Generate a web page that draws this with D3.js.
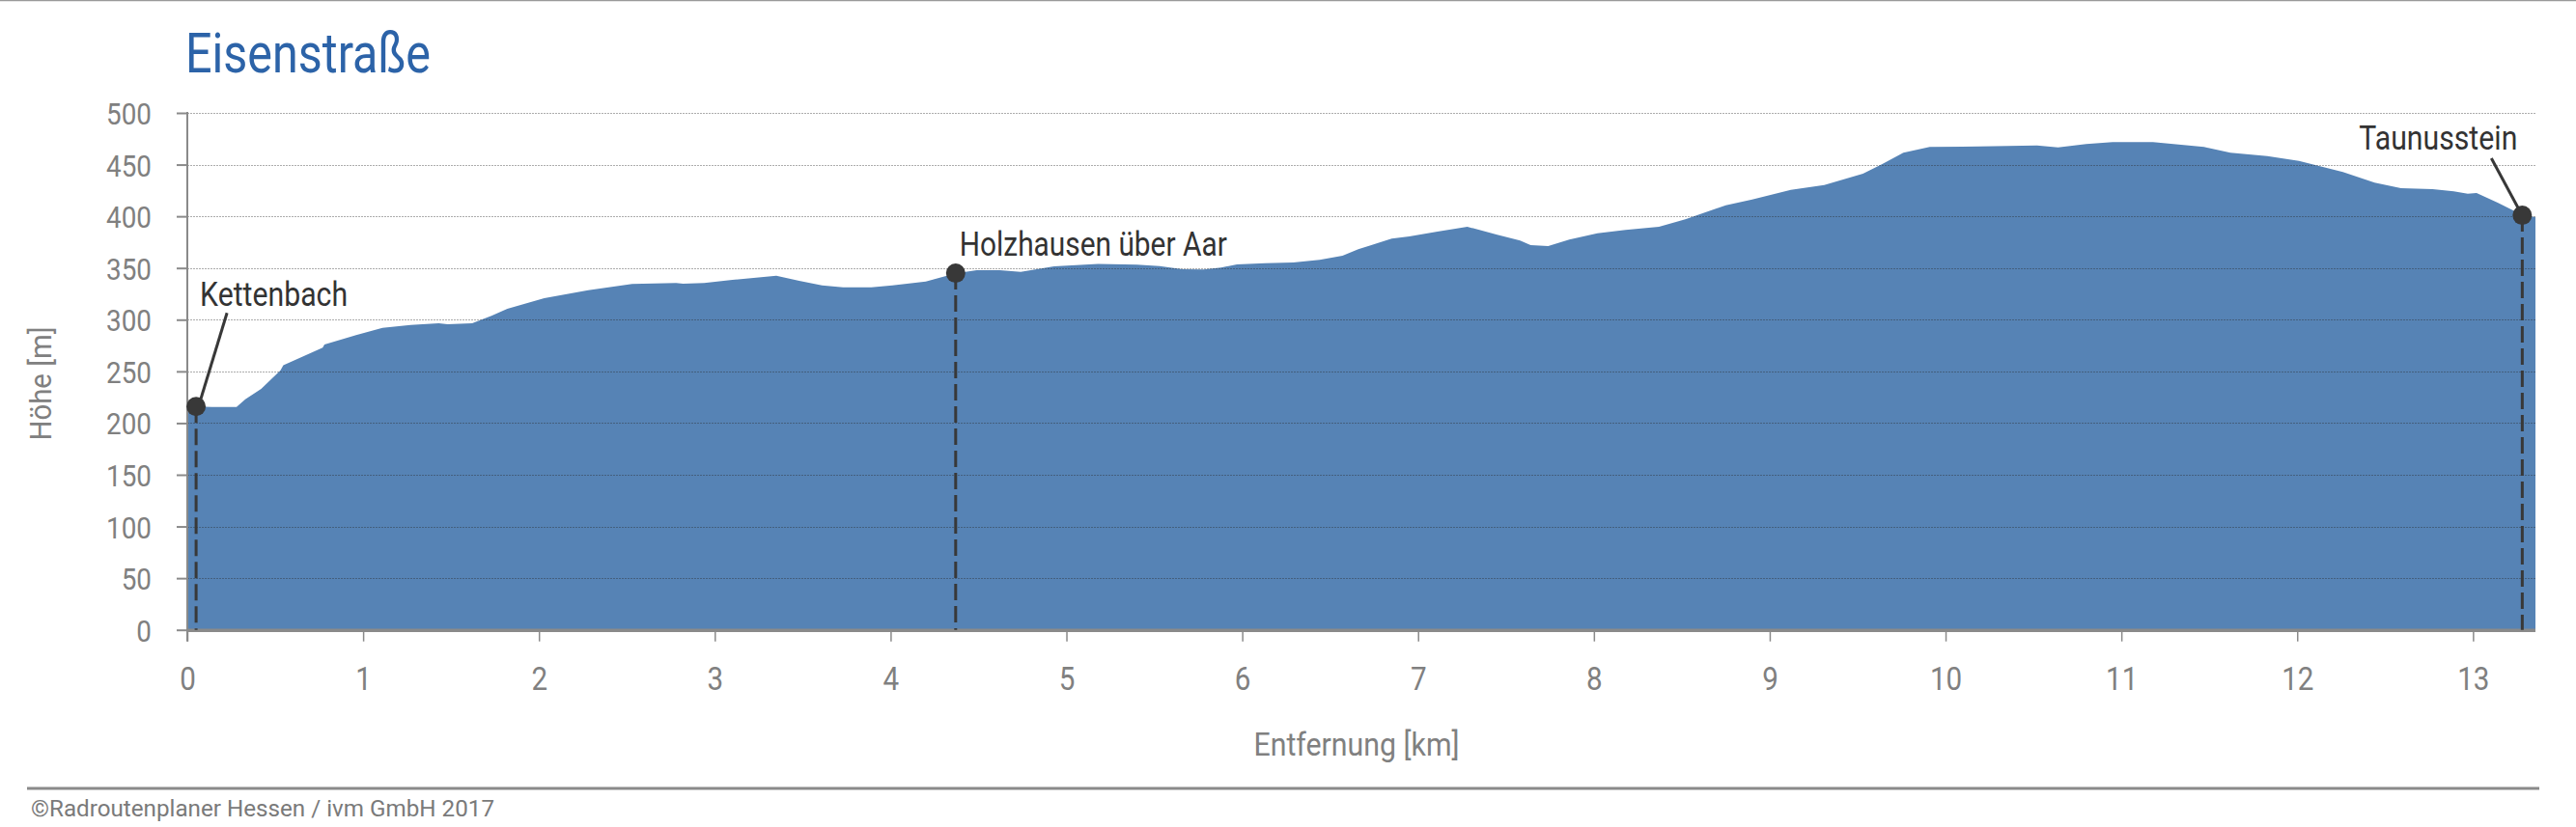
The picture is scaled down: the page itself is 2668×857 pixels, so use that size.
<!DOCTYPE html>
<html><head><meta charset="utf-8">
<script src="https://cdn.jsdelivr.net/npm/d3@7/dist/d3.min.js"></script>
<style>
html,body{margin:0;padding:0;background:#fff;}
svg{display:block;font-family:Roboto,"Noto Sans",sans-serif;}
</style></head>
<body>
<svg id="chart" width="2668" height="857"></svg>
<script>
// ---- data ----
const distanceKm = [0, 0.05, 0.14, 0.28, 0.33, 0.42, 0.53, 0.546, 0.77, 0.78, 0.96, 1.11, 1.27, 1.43, 1.48, 1.62, 1.73, 1.82, 2.03, 2.28, 2.53, 2.78, 2.82, 2.94, 3.10, 3.35, 3.48, 3.61, 3.73, 3.89, 4.01, 4.20, 4.37, 4.49, 4.62, 4.74, 4.93, 5.18, 5.40, 5.53, 5.66, 5.78, 5.88, 5.97, 6.13, 6.29, 6.44, 6.57, 6.66, 6.85, 6.95, 7.11, 7.28, 7.45, 7.58, 7.64, 7.74, 7.86, 8.02, 8.18, 8.37, 8.52, 8.75, 8.90, 9.12, 9.31, 9.53, 9.64, 9.76, 9.91, 10.19, 10.52, 10.64, 10.80, 10.95, 11.18, 11.47, 11.62, 11.83, 12.01, 12.26, 12.44, 12.59, 12.77, 12.89, 12.97, 13.02, 13.14, 13.28, 13.355];
const elevationM = [217, 216, 215.6, 215.6, 223, 233, 251, 256, 273, 276, 285, 292, 295, 296.5, 295.6, 296.5, 303.7, 310.5, 320.8, 328.5, 334.5, 335.4, 334.8, 335.4, 338.5, 342.5, 337.6, 333.2, 331.3, 331.3, 333.2, 337, 344.8, 347.9, 347.9, 346.3, 351.6, 354, 353.2, 351.9, 348.8, 348.5, 350.4, 353.5, 354.7, 355.3, 357.8, 361.9, 368.1, 378.4, 380.5, 385.2, 389.9, 382.1, 376.5, 372.1, 371.2, 377.4, 383.6, 386.8, 389.9, 397, 410.7, 416.3, 425.6, 430.3, 441.2, 450.5, 461.4, 467, 467.6, 468.5, 466.7, 469.8, 471.7, 471.7, 467, 461.4, 458.3, 453.6, 442.8, 432.5, 427.2, 426.3, 424.1, 421.9, 422.5, 413.2, 401.3, 399.2];
const placeNames = ["Kettenbach", "Holzhausen über Aar", "Taunusstein"];
const placeKm = [0.05, 4.37, 13.28];
const placeElev = [216, 345, 401];
const yTickValues = [0, 50, 100, 150, 200, 250, 300, 350, 400, 450, 500];
const xTickValues = [0, 1, 2, 3, 4, 5, 6, 7, 8, 9, 10, 11, 12, 13];
const titleText = "Eisenstraße";
const xAxisTitle = "Entfernung [km]";
const yAxisTitle = "Höhe [m]";
const creditText = "©Radroutenplaner Hessen / ivm GmbH 2017";

// ---- layout ----
const W = 2668, H = 857;
const plot = {left: 194, right: 2626, top: 117, bottom: 652.7};
const svg = d3.select("#chart");
const x = d3.scaleLinear().domain([0, d3.max(distanceKm)]).range([plot.left, plot.right]);
const y = d3.scaleLinear().domain([0, 500]).range([plot.bottom, plot.top]);
const axisGray = "#8a8a8a", textGray = "#808080", dark = "#383838";
const cond = 0.87;

// top border
svg.append("line").attr("x1", 0).attr("x2", W).attr("y1", 0.5).attr("y2", 0.5)
  .attr("stroke", "#9a9a9a").attr("stroke-width", 1.5);

// title
svg.append("text").attr("x", 192).attr("y", 75).text(titleText)
  .attr("font-size", 57).attr("fill", "#2c63a8")
  .attr("textLength", 254).attr("lengthAdjust", "spacingAndGlyphs");

// area
const area = d3.area().x((d, i) => x(distanceKm[i])).y0(y(0)).y1(d => y(d));
svg.append("path").datum(elevationM).attr("d", area).attr("fill", "#5683b5");

// gridlines
svg.append("g").selectAll("line").data(yTickValues.filter(v => v > 0)).join("line")
  .attr("x1", plot.left).attr("x2", plot.right)
  .attr("y1", d => Math.round(y(d)) + 0.5).attr("y2", d => Math.round(y(d)) + 0.5)
  .attr("stroke", "rgba(40,40,40,0.38)").attr("stroke-width", 1).attr("stroke-dasharray", "2,1");

// y axis
const gy = svg.append("g").attr("transform", `translate(${plot.left},0)`)
  .call(d3.axisLeft(y).tickValues(yTickValues).tickSize(11).tickSizeOuter(0));
gy.select(".domain").remove();
gy.selectAll(".tick line").attr("stroke", axisGray).attr("stroke-width", 2);
gy.selectAll(".tick text").attr("fill", textGray).attr("font-size", 32)
  .attr("font-family", "Roboto").attr("x", -37 / cond).attr("dy", "0.36em")
  .attr("transform", `scale(${cond},1)`);
svg.append("line").attr("x1", plot.left).attr("x2", plot.left)
  .attr("y1", plot.top - 1).attr("y2", plot.bottom + 12)
  .attr("stroke", axisGray).attr("stroke-width", 2);

// x axis
const gx = svg.append("g").attr("transform", `translate(0,${plot.bottom})`)
  .call(d3.axisBottom(x).tickValues(xTickValues).tickSize(12).tickSizeOuter(0).tickFormat(d3.format("d")));
gx.select(".domain").remove();
gx.selectAll(".tick line").attr("stroke", axisGray).attr("stroke-width", 1.5);
gx.selectAll(".tick text").attr("fill", textGray).attr("font-size", 34)
  .attr("font-family", "Roboto").attr("y", 62).attr("dy", 0)
  .attr("transform", `scale(${cond},1)`);
svg.append("line").attr("x1", plot.left).attr("x2", plot.right)
  .attr("y1", plot.bottom + 0.5).attr("y2", plot.bottom + 0.5)
  .attr("stroke", axisGray).attr("stroke-width", 3.5);

// axis titles
svg.append("text").attr("x", (plot.left + plot.right) / 2 - 5).attr("y", 783)
  .attr("text-anchor", "middle").attr("font-size", 33).attr("fill", textGray)
  .attr("textLength", 213).attr("lengthAdjust", "spacingAndGlyphs").text(xAxisTitle);
svg.append("text").attr("transform", "translate(53,397.5) rotate(-90)")
  .attr("text-anchor", "middle").attr("font-size", 32).attr("fill", textGray)
  .attr("textLength", 118).attr("lengthAdjust", "spacingAndGlyphs").text(yAxisTitle);

// place markers
const places = placeNames.map((n, i) => ({name: n, km: placeKm[i], elev: placeElev[i]}));
const labelStyle = [
  {anchor: "start", dx: 4, dy: -104, w: 153, leader: [4, -5, 32, -97]},
  {anchor: "start", dx: 4, dy: -18, w: 277, leader: null},
  {anchor: "end", dx: -5, dy: -68, w: 164, leader: [-4, -7, -32, -59]}
];
const gp = svg.append("g");
places.forEach((p, i) => {
  const px = x(p.km), py = y(p.elev), s = labelStyle[i];
  gp.append("line").attr("x1", px).attr("x2", px).attr("y1", py).attr("y2", y(0))
    .attr("stroke", dark).attr("stroke-width", 3).attr("stroke-dasharray", "17,6");
  if (s.leader) {
    gp.append("line").attr("x1", px + s.leader[0]).attr("y1", py + s.leader[1])
      .attr("x2", px + s.leader[2]).attr("y2", py + s.leader[3])
      .attr("stroke", dark).attr("stroke-width", 3);
  }
  gp.append("circle").attr("cx", px).attr("cy", py).attr("r", 10).attr("fill", dark);
  gp.append("text").attr("x", px + s.dx).attr("y", py + s.dy).attr("text-anchor", s.anchor)
    .attr("font-size", 35).attr("fill", "#333")
    .attr("textLength", s.w).attr("lengthAdjust", "spacingAndGlyphs").text(p.name);
});

// bottom rule and credit
svg.append("line").attr("x1", 28).attr("x2", 2630).attr("y1", 817).attr("y2", 817)
  .attr("stroke", axisGray).attr("stroke-width", 3);
svg.append("text").attr("x", 32).attr("y", 846).attr("font-size", 23).attr("fill", "#7a7a7a")
  .attr("textLength", 480).attr("lengthAdjust", "spacingAndGlyphs").text(creditText);
</script>
</body></html>
